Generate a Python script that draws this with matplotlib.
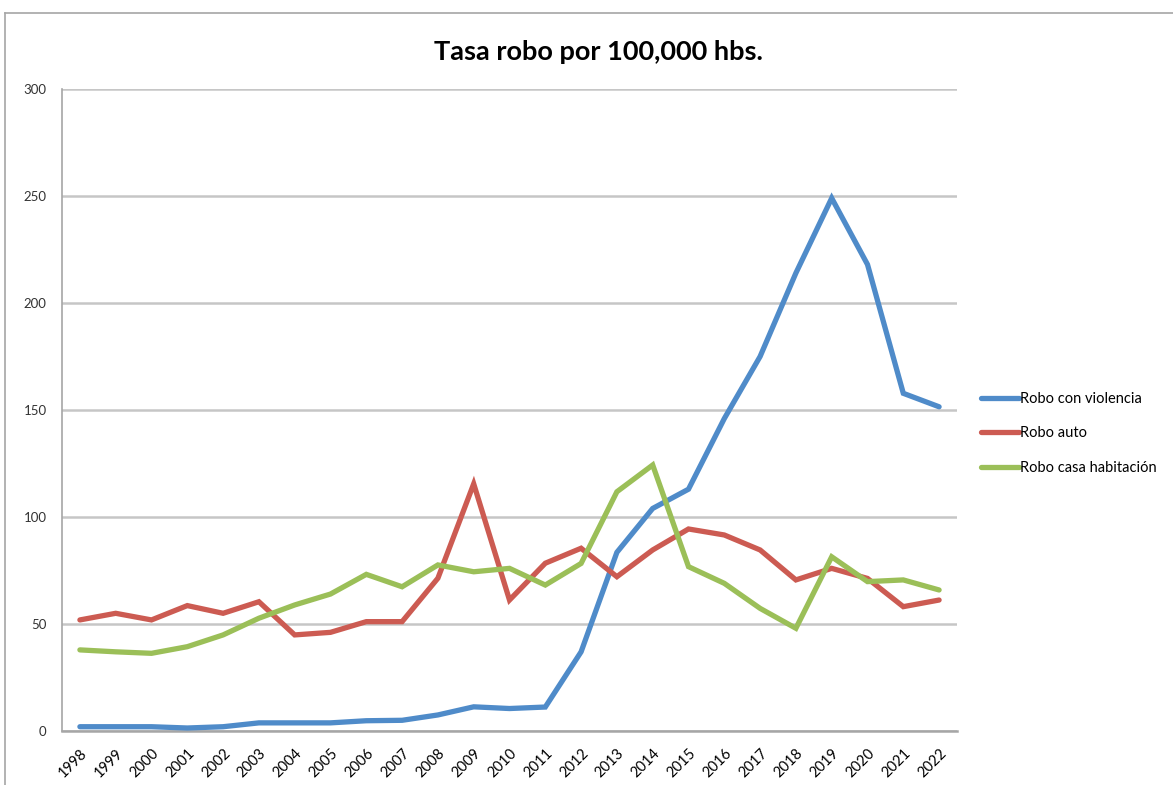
import matplotlib
matplotlib.use("Agg")
import matplotlib.pyplot as plt
from matplotlib.lines import Line2D

years = [str(y) for y in range(1998, 2023)]

robo_violencia = [2.0, 2.0, 2.0, 1.4, 2.0, 3.8, 3.8, 3.8, 4.8, 5.0, 7.5, 11.3, 10.5,
                  11.2, 37.0, 83.5, 104.0, 113.0, 146.0, 175.0, 214.0, 249.0, 218.0,
                  157.8, 151.5]
robo_auto = [51.9, 55.0, 51.9, 58.6, 55.0, 60.4, 44.9, 46.1, 51.1, 51.1, 71.4, 115.5,
             61.2, 78.4, 85.4, 72.1, 84.6, 94.4, 91.6, 84.6, 70.6, 76.0, 71.3, 58.1, 61.2]
robo_casa = [37.9, 37.0, 36.3, 39.4, 44.9, 52.7, 58.9, 64.0, 73.2, 67.4, 77.6, 74.4,
             76.0, 68.2, 78.3, 111.8, 124.3, 76.8, 69.0, 57.3, 48.0, 81.4, 69.8, 70.6, 65.9]

series_names = ["Robo con violencia", "Robo auto", "Robo casa habitación"]
series_colors = ["#4F8BC9", "#CC5B52", "#9BBF58"]
y_ticks = [0, 50, 100, 150, 200, 250, 300]

plt.rcParams['font.family'] = ['Lato', 'DejaVu Sans']

fig = plt.figure(figsize=(11.73, 7.85), dpi=100)
ax = fig.add_axes([62 / 1173, 54 / 785, (957 - 62) / 1173, (731 - 89) / 785])

x = list(range(len(years)))
for vals, name, col in zip([robo_violencia, robo_auto, robo_casa], series_names, series_colors):
    ax.plot(x, vals, color=col, linewidth=3.8, label=name, solid_capstyle='round',
            solid_joinstyle='miter', zorder=3)

ax.set_xlim(-0.5, len(years) - 0.5)
ax.set_ylim(0, 300)
ax.set_yticks(y_ticks)
ax.set_yticklabels([str(v) for v in y_ticks], fontsize=9.5)
ax.set_xticks(x)
ax.set_xticklabels(years, rotation=45, ha='right', rotation_mode='anchor', fontsize=10.5)
ax.tick_params(axis='x', length=0, pad=11)
ax.tick_params(axis='y', length=0, pad=11, labelcolor='#333333')

ax.grid(axis='y', color='#c6c6c6', linewidth=1.8, zorder=0)
ax.set_axisbelow(True)
for side in ['top', 'right']:
    ax.spines[side].set_visible(False)
ax.spines['left'].set_color('#a6a6a6')
ax.spines['bottom'].set_color('#a6a6a6')
ax.spines['left'].set_linewidth(1.2)
ax.spines['bottom'].set_linewidth(1.8)

fig.text(598 / 1173, 1 - 52 / 785, "Tasa robo por 100,000 hbs.", ha='center', va='center',
         fontsize=19.5, fontweight='bold')

fig.legend(loc='upper left', bbox_to_anchor=(975 / 1173, 1 - 386 / 785), frameon=False,
           fontsize=10.5, handlelength=2.6, handletextpad=0.1, labelspacing=1.4,
           borderaxespad=0)

# chart border (Excel frame)
fig.add_artist(Line2D([5 / 1173, 1], [1 - 13 / 785, 1 - 13 / 785], color='#a6a6a6', linewidth=1.2))
fig.add_artist(Line2D([5 / 1173, 5 / 1173], [0, 1 - 13 / 785], color='#a6a6a6', linewidth=1.2))

fig.savefig("out.png", dpi=100)
